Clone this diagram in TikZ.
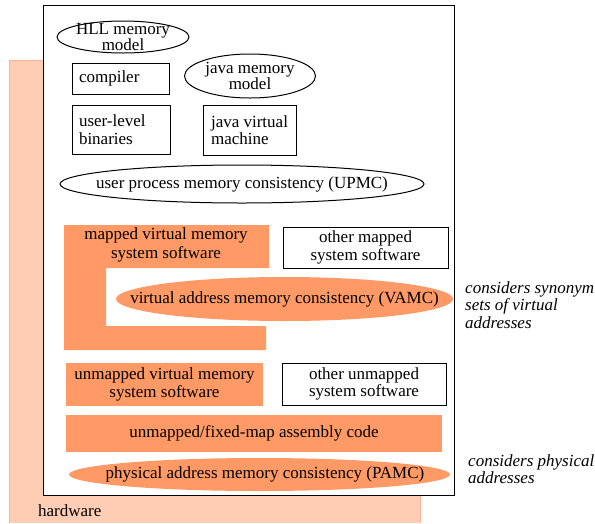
\documentclass[tikz,border=0pt]{standalone}
\usepackage{fontspec}
\setmainfont{Liberation Serif}
\usepackage{tikz}
\definecolor{hwback}{RGB}{255,204,180}
\definecolor{hwline}{RGB}{250,178,145}
\definecolor{swfill}{RGB}{255,153,102}

\begin{document}
\begin{tikzpicture}[x=1pt,y=-1pt,
  every node/.style={font=\fontsize{17}{17.5}\selectfont,inner sep=0pt},
  plainbox/.style={draw,line width=1pt,align=center},
  leftbox/.style={draw,line width=1pt,align=left,inner xsep=7pt},
  model/.style={align=center,font=\fontsize{17}{14}\selectfont},
  swbox/.style={fill=swfill,align=center},
  aside/.style={font=\fontsize{17}{17.5}\selectfont\itshape,align=left,anchor=north west}]
\useasboundingbox (0,0) rectangle (595,523);
% hardware layer
\fill[hwback] (9,60) rectangle (420,523);
\draw[hwline] (9,523) -- (9,60) -- (420,60) -- (420,523);
\node[anchor=base west] (hw) at (38,516) {hardware};
% software layer
\draw[fill=white,line width=1pt] (43,5) rectangle (454,495);

\draw[line width=1pt] (123,37) ellipse [x radius=66,y radius=16];
\node[model] (hll) at (123,37) {HLL memory\\model};
\node[leftbox,text width=83pt,minimum height=31pt] (comp) at (120.5,78.5) {compiler};
\draw[line width=1pt] (250,76) ellipse [x radius=65.5,y radius=22];
\node[model] (jmm) at (250,76) {java memory\\model};
\node[leftbox,text width=84pt,minimum height=49pt] (ulb) at (121,129.5) {user-level\\binaries};
\node[plainbox,align=left,minimum width=93pt,minimum height=50pt] (jvm) at (249.5,130) {java virtual\\machine};
\draw[line width=1pt] (242,184) ellipse [x radius=182,y radius=19];
\node (upmc) at (242,184) {user process memory consistency (UPMC)};

% mapped software
\fill[swfill] (64,225) -- (269,225) -- (269,268) -- (106,268) -- (106,326)
  -- (266,326) -- (266,350) -- (64,350) -- cycle;
\node[align=center,font=\fontsize{17}{19}\selectfont] (mvm) at (166,245) {mapped virtual memory\\system software};
\node[plainbox,minimum width=165pt,minimum height=41pt] (omss) at (365.5,247.5) {other mapped\\system software};
\fill[swfill] (284.5,299) ellipse [x radius=168.5,y radius=22];
\node (vamc) at (284.5,299) {virtual address memory consistency (VAMC)};
\node[aside] (synnote) at (465,281) {considers synonym\\sets of virtual\\addresses};

% unmapped software
\node[swbox,minimum width=197pt,minimum height=43pt] (uvm) at (164.5,384.5) {unmapped virtual memory\\system software};
\node[plainbox,minimum width=164pt,minimum height=42pt] (ouss) at (364,384) {other unmapped\\system software};
\node[swbox,minimum width=376pt,minimum height=37pt] (asm) at (254,433.5) {unmapped/fixed-map assembly code};
\fill[swfill] (259.5,474.5) ellipse [x radius=190.5,y radius=16.5];
\node (pamc) at (265,474.5) {physical address memory consistency (PAMC)};
\node[aside] (physnote) at (468,454) {considers physical\\addresses};
\end{tikzpicture}
\end{document}
